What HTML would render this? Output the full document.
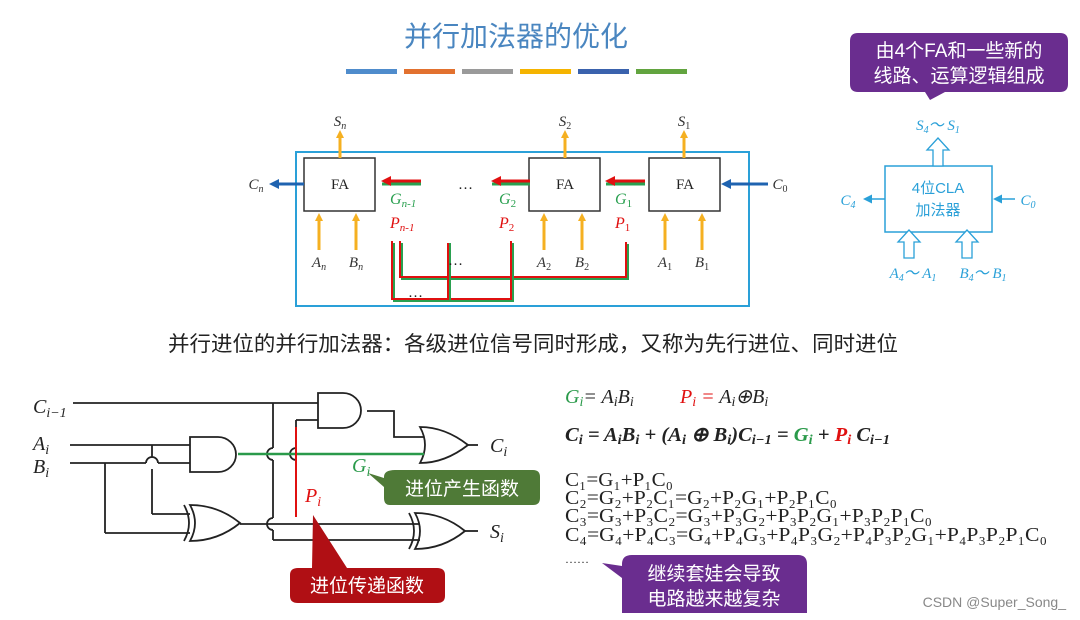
<!DOCTYPE html>
<html><head><meta charset="utf-8"><style>
html,body{margin:0;padding:0;background:#fff;}
svg{display:block;}
.s{font-family:"Liberation Serif",serif;font-style:italic;}
.cj{font-family:"Liberation Sans","Noto Sans CJK SC",sans-serif;}
</style></head><body>
<svg width="1080" height="620" viewBox="0 0 1080 620" xmlns="http://www.w3.org/2000/svg">
<defs>
<marker id="ya" markerWidth="8" markerHeight="8" refX="4" refY="4" orient="auto" markerUnits="userSpaceOnUse"><path d="M0,0 L8,4 L0,8 z" fill="#f5b021"/></marker>
<marker id="ba" markerWidth="10" markerHeight="10" refX="5" refY="5" orient="auto" markerUnits="userSpaceOnUse"><path d="M0,0 L10,5 L0,10 z" fill="#1f63b0"/></marker>
<marker id="ra" markerWidth="10" markerHeight="10" refX="5" refY="5" orient="auto" markerUnits="userSpaceOnUse"><path d="M0,0 L10,5 L0,10 z" fill="#e01010"/></marker>
<marker id="la" markerWidth="9" markerHeight="9" refX="4" refY="4.5" orient="auto" markerUnits="userSpaceOnUse"><path d="M0,0 L9,4.5 L0,9 z" fill="#2aa0d8"/></marker>
</defs>
<text x="516" y="46" text-anchor="middle" class="cj" font-size="28" fill="#4a86c0">并行加法器的优化</text>
<rect x="346" y="69" width="51" height="5" fill="#4f8ccc"/>
<rect x="404" y="69" width="51" height="5" fill="#e2712f"/>
<rect x="462" y="69" width="51" height="5" fill="#9a9a9a"/>
<rect x="520" y="69" width="51" height="5" fill="#f5b400"/>
<rect x="578" y="69" width="51" height="5" fill="#3a62ad"/>
<rect x="636" y="69" width="51" height="5" fill="#62a43f"/>

<rect x="296" y="152" width="453" height="154" fill="none" stroke="#2aa0d8" stroke-width="2"/>
<g fill="#fff" stroke="#333" stroke-width="1.5">
<rect x="304" y="158" width="71" height="53"/>
<rect x="529" y="158" width="71" height="53"/>
<rect x="649" y="158" width="71" height="53"/>
</g>
<g font-family="Liberation Serif,serif" font-size="15" fill="#222" text-anchor="middle">
<text x="340" y="189">FA</text><text x="565" y="189">FA</text><text x="685" y="189">FA</text>
</g>
<g stroke="#f5b021" stroke-width="3">
<line x1="340" y1="158" x2="340" y2="134" marker-end="url(#ya)"/>
<line x1="565" y1="158" x2="565" y2="134" marker-end="url(#ya)"/>
<line x1="684" y1="158" x2="684" y2="134" marker-end="url(#ya)"/>
<line x1="319" y1="250" x2="319" y2="217" marker-end="url(#ya)"/>
<line x1="356" y1="250" x2="356" y2="217" marker-end="url(#ya)"/>
<line x1="544" y1="250" x2="544" y2="217" marker-end="url(#ya)"/>
<line x1="582" y1="250" x2="582" y2="217" marker-end="url(#ya)"/>
<line x1="665" y1="250" x2="665" y2="217" marker-end="url(#ya)"/>
<line x1="702" y1="250" x2="702" y2="217" marker-end="url(#ya)"/>
</g>
<g class="s" font-size="15" fill="#333" text-anchor="middle">
<text x="340" y="126">S<tspan font-size="10" dy="3">n</tspan></text>
<text x="565" y="126">S<tspan font-size="10" dy="3" font-style="normal">2</tspan></text>
<text x="684" y="126">S<tspan font-size="10" dy="3" font-style="normal">1</tspan></text>
<text x="319" y="267">A<tspan font-size="10" dy="3">n</tspan></text>
<text x="356" y="267">B<tspan font-size="10" dy="3">n</tspan></text>
<text x="544" y="267">A<tspan font-size="10" dy="3" font-style="normal">2</tspan></text>
<text x="582" y="267">B<tspan font-size="10" dy="3" font-style="normal">2</tspan></text>
<text x="665" y="267">A<tspan font-size="10" dy="3" font-style="normal">1</tspan></text>
<text x="702" y="267">B<tspan font-size="10" dy="3" font-style="normal">1</tspan></text>
<text x="256" y="189">C<tspan font-size="10" dy="3">n</tspan></text>
<text x="780" y="189">C<tspan font-size="10" dy="3" font-style="normal">0</tspan></text>
</g>
<g stroke="#1f63b0" stroke-width="3">
<line x1="304" y1="184" x2="274" y2="184" marker-end="url(#ba)"/>
<line x1="768" y1="184" x2="726" y2="184" marker-end="url(#ba)"/>
</g>
<g stroke-width="3">
<line x1="645" y1="184" x2="606" y2="184" stroke="#2aa050"/>
<line x1="645" y1="181" x2="610" y2="181" stroke="#e01010" marker-end="url(#ra)"/>
<line x1="530" y1="184" x2="492" y2="184" stroke="#2aa050"/>
<line x1="530" y1="181" x2="496" y2="181" stroke="#e01010" marker-end="url(#ra)"/>
<line x1="421" y1="184" x2="382" y2="184" stroke="#2aa050"/>
<line x1="421" y1="181" x2="386" y2="181" stroke="#e01010" marker-end="url(#ra)"/>
</g>
<text x="458" y="189" font-size="15" fill="#222" font-family="Liberation Serif,serif">…</text>
<g class="s" font-size="16">
<text x="390" y="204" fill="#2aa050">G<tspan font-size="11" dy="3">n-1</tspan></text>
<text x="390" y="228" fill="#e01010">P<tspan font-size="11" dy="3">n-1</tspan></text>
<text x="499" y="204" fill="#2aa050">G<tspan font-size="11" dy="3" font-style="normal">2</tspan></text>
<text x="499" y="228" fill="#e01010">P<tspan font-size="11" dy="3" font-style="normal">2</tspan></text>
<text x="615" y="204" fill="#2aa050">G<tspan font-size="11" dy="3" font-style="normal">1</tspan></text>
<text x="615" y="228" fill="#e01010">P<tspan font-size="11" dy="3" font-style="normal">1</tspan></text>
</g>
<g fill="none" stroke-width="2">
<polyline points="628,244 628,279 402,279 402,243" stroke="#2aa050"/>
<polyline points="626,242 626,277 400,277 400,241" stroke="#e01010"/>
<polyline points="513,243 513,301 394,301 394,243" stroke="#2aa050"/>
<polyline points="511,241 511,299 392,299 392,241" stroke="#e01010"/>
<polyline points="448,243 448,299" stroke="#e01010"/>
<polyline points="450,243 450,301" stroke="#2aa050"/>
</g>
<text x="448" y="265" font-size="15" fill="#222">…</text>
<text x="408" y="297" font-size="15" fill="#222">…</text>

<path d="M858,33 H1060 Q1068,33 1068,41 V84 Q1068,92 1060,92 H945 L930,100 L925,92 H858 Q850,92 850,84 V41 Q850,33 858,33 Z" fill="#6a2d8f"/>
<text x="959" y="57" text-anchor="middle" class="cj" font-size="19" fill="#fff">由4个FA和一些新的</text>
<text x="959" y="82" text-anchor="middle" class="cj" font-size="19" fill="#fff">线路、运算逻辑组成</text>
<rect x="885" y="166" width="107" height="66" fill="#fff" stroke="#2aa0d8" stroke-width="1.5"/>
<text x="938" y="193" text-anchor="middle" class="cj" font-size="15" fill="#2aa0d8">4位CLA</text>
<text x="938" y="215" text-anchor="middle" class="cj" font-size="15" fill="#2aa0d8">加法器</text>
<g fill="#fff" stroke="#2aa0d8" stroke-width="1.3">
<path d="M933,166 V150 H927 L938,138 L949,150 H943 V166 Z"/>
<path d="M904,258 V242 H898 L909,230 L920,242 H914 V258 Z"/>
<path d="M962,258 V242 H956 L967,230 L978,242 H972 V258 Z"/>
</g>
<g stroke="#2aa0d8" stroke-width="1.5">
<line x1="885" y1="199" x2="868" y2="199" marker-end="url(#la)"/>
<line x1="1015" y1="199" x2="998" y2="199" marker-end="url(#la)"/>
</g>
<g class="s" font-size="15" fill="#2aa0d8" text-anchor="middle">
<text x="938" y="130">S<tspan font-size="10" dy="3">4</tspan><tspan dy="-3">～ S</tspan><tspan font-size="10" dy="3">1</tspan></text>
<text x="848" y="205">C<tspan font-size="10" dy="3">4</tspan></text>
<text x="1028" y="205">C<tspan font-size="10" dy="3">0</tspan></text>
<text x="913" y="278">A<tspan font-size="10" dy="3">4</tspan><tspan dy="-3">～ A</tspan><tspan font-size="10" dy="3">1</tspan></text>
<text x="983" y="278">B<tspan font-size="10" dy="3">4</tspan><tspan dy="-3">～ B</tspan><tspan font-size="10" dy="3">1</tspan></text>
</g>

<text x="168" y="351" class="cj" font-size="21" fill="#222" textLength="730" lengthAdjust="spacingAndGlyphs">并行进位的并行加法器：各级进位信号同时形成，又称为先行进位、同时进位</text>

<g fill="none" stroke="#222" stroke-width="1.8">
<line x1="73" y1="403" x2="318" y2="403"/>
<line x1="70" y1="445" x2="190" y2="445"/>
<line x1="70" y1="463" x2="146" y2="463"/><path d="M146,463 a6,6 0 0 1 12,0"/><line x1="158" y1="463" x2="190" y2="463"/>
<line x1="152" y1="445" x2="152" y2="457"/><line x1="152" y1="469" x2="152" y2="514"/><line x1="152" y1="514" x2="190" y2="514"/>
<line x1="105" y1="463" x2="105" y2="533"/><line x1="105" y1="533" x2="190" y2="533"/>
<path d="M318,393 H343 A18,17.5 0 0 1 343,428 H318 Z"/>
<path d="M367,411 H394 V437 H424"/>
<path d="M420,427 Q445,427 468,445 Q445,463 420,463 Q430,445 420,427 Z"/>
<line x1="468" y1="445" x2="478" y2="445"/>
<path d="M190,437 H218 A18,17.5 0 0 1 218,472 H190 Z"/>
<path d="M190,505 Q218,505 240,523 Q218,541 190,541 Q200,523 190,505 Z"/>
<path d="M184,505 Q194,523 184,541"/>
<line x1="273" y1="403" x2="273" y2="448"/><path d="M273,448 a6,6 0 0 0 0,12"/><line x1="273" y1="460" x2="273" y2="518"/><path d="M273,518 a6,6 0 0 0 0,12"/><line x1="273" y1="530" x2="273" y2="540"/>
<line x1="273" y1="540" x2="420" y2="540"/>
<line x1="240" y1="524" x2="420" y2="524"/>
<line x1="296" y1="420" x2="318" y2="420"/>
<line x1="296" y1="420" x2="296" y2="427"/>
<path d="M415,513 Q443,513 465,531 Q443,549 415,549 Q425,531 415,513 Z"/>
<path d="M409,513 Q419,531 409,549"/>
<line x1="465" y1="531" x2="478" y2="531"/>
</g>
<path d="M296,448 a6,6 0 0 0 0,12" fill="none" stroke="#222" stroke-width="1.8"/>
<line x1="238" y1="454" x2="424" y2="454" stroke="#2a9a4a" stroke-width="2.5"/>
<line x1="296" y1="427" x2="296" y2="517" stroke="#e01010" stroke-width="2"/>
<g font-family="Liberation Serif,serif" font-style="italic" font-size="20" fill="#222">
<text x="33" y="413">C<tspan font-size="14" dy="4">i−1</tspan></text>
<text x="33" y="450">A<tspan font-size="14" dy="4">i</tspan></text>
<text x="33" y="473">B<tspan font-size="14" dy="4">i</tspan></text>
<text x="490" y="452">C<tspan font-size="14" dy="4">i</tspan></text>
<text x="490" y="538">S<tspan font-size="14" dy="4">i</tspan></text>
<text x="352" y="472" fill="#2a9a4a">G<tspan font-size="14" dy="4">i</tspan></text>
<text x="305" y="502" fill="#e01010">P<tspan font-size="14" dy="4">i</tspan></text>
</g>
<path d="M395,470 H533 Q540,470 540,477 V498 Q540,505 533,505 H390 Q384,505 384,498 V487 L368,473 L384,478 V477 Q384,470 395,470 Z" fill="#4f7a37"/>
<text x="462" y="495" text-anchor="middle" class="cj" font-size="19" fill="#fff">进位产生函数</text>
<path d="M298,568 H312 L313,515 L347,568 H437 Q445,568 445,575 V596 Q445,603 437,603 H298 Q290,603 290,596 V575 Q290,568 298,568 Z" fill="#b00f14"/>
<text x="367" y="592" text-anchor="middle" class="cj" font-size="19" fill="#fff">进位传递函数</text>
<path d="M632,555 H798 Q807,555 807,564 V613 H622 V578 L602,563 L622,566 V564 Q622,555 632,555 Z" fill="#6a2d8f"/>
<text x="714" y="580" text-anchor="middle" class="cj" font-size="19" fill="#fff">继续套娃会导致</text>
<text x="714" y="605" text-anchor="middle" class="cj" font-size="19" fill="#fff">电路越来越复杂</text>

<g font-family="Liberation Serif,serif" font-style="italic" font-size="20" fill="#222">
<text x="565" y="403"><tspan fill="#2a9a4a">G<tspan font-size="14" dy="3">i</tspan></tspan><tspan dy="-3">= A</tspan><tspan font-size="14" dy="3">i</tspan><tspan dy="-3">B</tspan><tspan font-size="14" dy="3">i</tspan></text>
<text x="680" y="403"><tspan fill="#e01010">P<tspan font-size="14" dy="3">i</tspan></tspan><tspan dy="-3" fill="#e01010"> =</tspan><tspan> A</tspan><tspan font-size="14" dy="3">i</tspan><tspan dy="-3">⊕B</tspan><tspan font-size="14" dy="3">i</tspan></text>
<text x="565" y="441" font-weight="bold" textLength="325" lengthAdjust="spacingAndGlyphs">C<tspan font-size="14" dy="3">i</tspan><tspan dy="-3"> = A</tspan><tspan font-size="14" dy="3">i</tspan><tspan dy="-3">B</tspan><tspan font-size="14" dy="3">i</tspan><tspan dy="-3"> + (A</tspan><tspan font-size="14" dy="3">i</tspan><tspan dy="-3"> ⊕ B</tspan><tspan font-size="14" dy="3">i</tspan><tspan dy="-3">)C</tspan><tspan font-size="14" dy="3">i−1</tspan><tspan dy="-3"> = </tspan><tspan fill="#2a9a4a">G</tspan><tspan font-size="14" dy="3" fill="#2a9a4a">i</tspan><tspan dy="-3"> + </tspan><tspan fill="#e01010">P</tspan><tspan font-size="14" dy="3" fill="#e01010">i</tspan><tspan dy="-3"> C</tspan><tspan font-size="14" dy="3">i−1</tspan></text>
</g>
<g font-family="Liberation Serif,serif" font-size="20" fill="#222">
<text x="565" y="486" textLength="108" lengthAdjust="spacingAndGlyphs">C₁=G₁+P₁C₀</text>
<text x="565" y="504" textLength="272" lengthAdjust="spacingAndGlyphs">C₂=G₂+P₂C₁=G₂+P₂G₁+P₂P₁C₀</text>
<text x="565" y="522" textLength="367" lengthAdjust="spacingAndGlyphs">C₃=G₃+P₃C₂=G₃+P₃G₂+P₃P₂G₁+P₃P₂P₁C₀</text>
<text x="565" y="541" textLength="482" lengthAdjust="spacingAndGlyphs">C₄=G₄+P₄C₃=G₄+P₄G₃+P₄P₃G₂+P₄P₃P₂G₁+P₄P₃P₂P₁C₀</text>
<text x="565" y="563" font-size="12">……</text>
</g>
<text x="1066" y="607" text-anchor="end" font-family="Liberation Sans,sans-serif" font-size="14" fill="#888">CSDN @Super_Song_</text>
</svg>
</body></html>
